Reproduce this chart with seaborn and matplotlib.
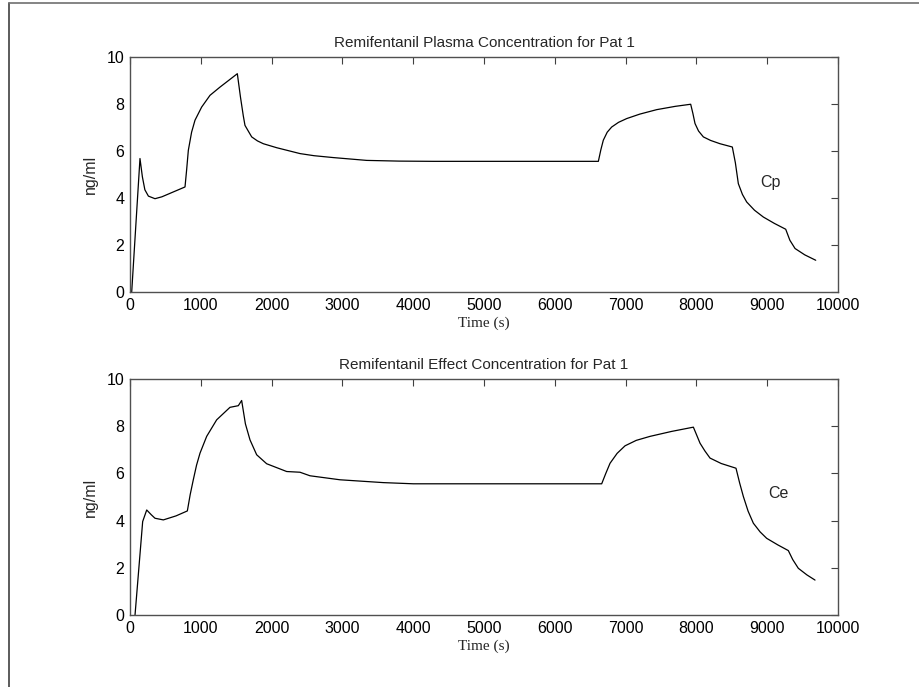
import matplotlib
matplotlib.use("Agg")
import matplotlib.pyplot as plt
from matplotlib.lines import Line2D
import seaborn as sns
import pandas as pd

# Plasma concentration Cp (ng/ml) versus time (s)
cp_time = [24, 141, 175, 210, 260, 353, 450, 777, 800, 824, 870, 918, 1012, 1130,
           1271, 1400, 1516, 1560, 1600, 1624, 1680, 1719, 1800, 1883, 2072, 2401,
           2600, 2872, 3343, 3800, 4284, 6615, 6650, 6685, 6740, 6803, 6900, 7015,
           7200, 7439, 7700, 7919, 7950, 7980, 8030, 8098, 8200, 8333, 8507, 8550,
           8592, 8650, 8710, 8820, 8945, 9100, 9261, 9320, 9393, 9530, 9685]
cp_conc = [0.0, 5.68, 4.90, 4.35, 4.08, 3.97, 4.05, 4.47, 5.20, 6.03, 6.80, 7.31,
           7.87, 8.37, 8.72, 9.02, 9.29, 8.30, 7.50, 7.09, 6.80, 6.60, 6.43, 6.31,
           6.14, 5.89, 5.80, 5.72, 5.60, 5.57, 5.56, 5.56, 6.05, 6.46, 6.80, 7.02,
           7.22, 7.38, 7.57, 7.76, 7.90, 7.99, 7.60, 7.17, 6.85, 6.60, 6.45, 6.31,
           6.17, 5.50, 4.61, 4.15, 3.83, 3.48, 3.19, 2.92, 2.67, 2.20, 1.85, 1.58,
           1.35]

# Effect-site concentration Ce (ng/ml) versus time (s)
ce_time = [71, 179, 236, 300, 353, 471, 650, 810, 850, 894, 940, 989, 1083, 1224,
           1412, 1530, 1577, 1630, 1695, 1789, 1930, 2213, 2401, 2542, 2966, 3578,
           4002, 6662, 6720, 6780, 6880, 6992, 7150, 7345, 7650, 7957, 8000, 8051,
           8120, 8192, 8350, 8559, 8610, 8663, 8730, 8804, 8900, 8992, 9150, 9298,
           9360, 9439, 9560, 9675]
ce_conc = [0.0, 3.96, 4.45, 4.25, 4.10, 4.03, 4.20, 4.41, 5.10, 5.73, 6.35, 6.86,
           7.57, 8.27, 8.80, 8.87, 9.09, 8.10, 7.42, 6.79, 6.41, 6.08, 6.05, 5.90,
           5.73, 5.61, 5.56, 5.56, 6.00, 6.43, 6.85, 7.17, 7.40, 7.57, 7.78, 7.96,
           7.65, 7.28, 6.95, 6.65, 6.42, 6.22, 5.60, 5.02, 4.40, 3.89, 3.52, 3.25,
           2.97, 2.73, 2.35, 1.98, 1.70, 1.48]

titles = ["Remifentanil Plasma Concentration for Pat 1",
          "Remifentanil Effect Concentration for Pat 1"]
curve_labels = ["Cp", "Ce"]
label_pos = [(9040, 4.68), (9160, 5.13)]
x_ticks = [0, 1000, 2000, 3000, 4000, 5000, 6000, 7000, 8000, 9000, 10000]
y_ticks = [0, 2, 4, 6, 8, 10]

sns.set_style("white")
plt.rcParams["font.family"] = ["Liberation Sans", "DejaVu Sans"]

fig = plt.figure(figsize=(9.2, 6.87), dpi=100)
ax_top = fig.add_axes([0.1413, 0.575, 0.7696, 0.342])
ax_bot = fig.add_axes([0.1413, 0.1048, 0.7696, 0.3435])

series = [pd.DataFrame({"t": cp_time, "c": cp_conc}),
          pd.DataFrame({"t": ce_time, "c": ce_conc})]

for ax, df, title, lab, pos in zip([ax_top, ax_bot], series, titles, curve_labels, label_pos):
    sns.lineplot(data=df, x="t", y="c", ax=ax, color="black", linewidth=0.9,
                 estimator=None, sort=False)
    ax.set_xlim(0, 10000)
    ax.set_ylim(0, 10)
    ax.set_xticks(x_ticks)
    ax.set_yticks(y_ticks)
    ax.set_xticklabels([str(v) for v in x_ticks])
    ax.set_yticklabels([str(v) for v in y_ticks])
    ax.tick_params(direction="in", length=5, width=0.8, color="#404040",
                   top=True, right=True, labelsize=11.5, pad=4,
                   labelcolor="black")
    for s in ax.spines.values():
        s.set_color("#505050")
        s.set_linewidth(1.0)
    ax.set_title(title, fontsize=11, pad=7)
    ax.set_xlabel("Time (s)", family=["Liberation Serif", "DejaVu Serif"],
                  fontsize=11, labelpad=3)
    ax.set_ylabel("ng/ml", fontsize=11.5, labelpad=6)
    ax.text(pos[0], pos[1], lab, fontsize=11.5, ha="center", va="center")

# Outer frame lines on the left and top edges of the figure
fig.add_artist(Line2D([9.5 / 920, 9.5 / 920], [0, 1 - 2.5 / 687],
                      transform=fig.transFigure, color="#404040", linewidth=1.2))
fig.add_artist(Line2D([9.5 / 920, 1], [1 - 2.5 / 687, 1 - 2.5 / 687],
                      transform=fig.transFigure, color="#707070", linewidth=1.2))

fig.savefig("out.png", dpi=100)
